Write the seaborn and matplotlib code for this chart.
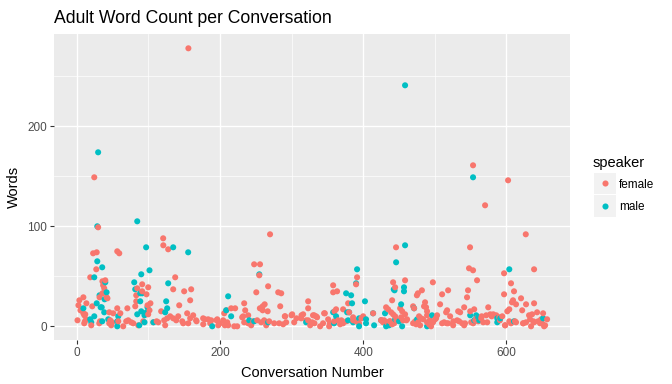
import matplotlib
matplotlib.use("Agg")
import matplotlib.pyplot as plt
from matplotlib.patches import Rectangle
from matplotlib.lines import Line2D
import seaborn as sns
import pandas as pd

# ---- data ----
female_x = [24.6, 30, 120.8, 121, 127.8, 23, 28, 56.7, 59.5, 27.4, 19,
            36, 40, 37, 38.5, 36, 32, 41.8, 43, 9.4, 3.8, 2.5, 5.3, 9.4, 13.6, 10.8, 1.2, 21.8,
            56.7, 61, 70.8, 81.8, 83.2, 84.6, 91.5, 99.9, 91.5, 83.2, 97.5, 98.9, 101.7, 103, 99.9,
            137.6, 134.8, 150.1, 159.9, 158.5, 143.2, 154.3, 162.7, 158.5, 166.8, 176.6, 183.6,
            118, 130.6, 134.8, 141.8, 147.4, 148.8, 139, 126.4, 122.2, 123.6, 107, 114,
            45.5, 48.3, 49.7, 51.1, 45.5, 46.9, 10.6, 13.4, 12, 20.4, 31.6, 65, 69.2, 76.2, 79, 72,
            156,
            270, 247.8, 256, 255, 267.3, 250.8, 281.4, 285.6, 233.9, 284.2, 259.7, 262.5, 259.7, 266.7,
            235.3, 239.5, 215.7, 221.3, 206, 208.8, 187.9, 196.3, 204.6, 210.2, 211.6, 220, 224.2,
            197.7, 176.7, 186.5,
            231.1, 233.9, 239.5, 243.7, 252, 257.6, 261.8, 264.6, 268.8, 275.8, 282.7, 288.3, 291.1,
            292.5, 300.9, 303.7, 313.4, 316.2, 323.2, 323.2, 320.4, 326, 328.8, 331.6, 334.3, 335.7,
            339.9, 345.5, 351.1, 352.5, 358.1, 358.1, 363.6, 362.2, 359.4, 365, 367.8, 372, 379,
            380.4, 372, 385.9, 390.1, 391.5, 390.1, 394.3,
            553.4, 602.3, 570.2, 445.9, 549.2, 547.8, 553.4, 559, 596.7, 458.5, 441.8, 444.6, 497.3,
            482, 476.4, 475, 510.2, 518.6, 546.4, 545, 596.7, 440.4,
            432, 434.8, 439, 441.8, 444.6, 429.2, 433.4, 437.6, 443.2, 440.4, 427.8, 425, 451.6,
            454.4, 453, 458.5, 455.7, 461.3, 469.7, 471.1, 486.4, 485, 487.8, 489.2, 489.2, 478,
            480.9, 483.7, 476.6, 472.5, 469.7, 473.9, 479.5, 489.2, 492, 494.8, 497.6, 501.8, 503.2,
            500.4, 507.4, 510.2, 513, 515.8, 517.2, 518.6, 521.4, 525.6, 532.6, 535.4, 531.2, 534,
            538.2, 541, 541, 549.4, 555, 550.8, 553.6, 556.4, 560.6, 564.8, 567.6, 571.8, 573.2,
            574.6, 577.4, 581.6, 585.8, 590, 594.2, 598.4, 601.2, 604, 604, 400,
            627, 638.6, 606.4, 610.6, 620.4, 609.2, 607.8, 613.4, 627.4, 638.6, 622, 631.6, 635.8,
            642.8, 651.2, 656.8, 648.4, 644.2, 638.6, 634.4, 633, 627.4, 623.2, 613.4, 606.4, 598,
            652.6, 649.8,
            # extra bottom-band readings
            155.8, 167.4, 179, 195.3, 199.9, 206.9, 232.5, 246.5, 255.8, 290.6, 299.9, 306.9,
            313.9, 323.2, 11.6, 32.6, 58.1, 86, 93, 111.7,
            330, 332, 344, 346.5, 353.5, 360, 369.6, 376.6, 386, 397.6, 413.9, 425.5, 437,
            446.4, 460.4, 493, 516.6, 525.9, 542.2, 558.5, 565.5, 579.4, 591, 612, 623.7,
            637.6, 647, 654]
female_y = [149, 99, 88, 81, 77, 73, 74, 75, 73, 57, 49,
            45, 46, 41, 38, 33, 29, 29, 28, 29, 26, 21, 16, 13, 23, 11, 6, 20,
            18, 13, 18, 20, 25, 38, 42, 39, 35, 31, 32, 21, 16, 23, 12,
            49, 37, 35, 37, 26, 21, 13, 11, 8, 6, 8, 7,
            15, 10, 8, 10, 5, 3, 6, 8, 6, 1, 4, 4,
            3, 1, 4, 13, 14, 6, 3, 7, 12, 1, 3, 0, 5, 4, 3, 6,
            278,
            92, 62, 62, 51, 40, 34, 34, 33, 23, 20, 20, 22, 16, 15,
            16, 11, 18, 18, 13, 16, 6, 7, 6, 4, 1, 0, 0,
            1, 2, 3,
            9, 4, 3, 1, 6, 4, 6, 1, 5, 3, 3, 2, 10,
            4, 12, 4, 8, 12, 25, 18, 6, 1, 4, 11, 10, 9,
            0, 13, 7, 0, 41, 34, 35, 17, 5, 6, 2, 3, 23,
            14, 17, 9, 5, 49, 42, 3,
            161, 146, 121, 79, 79, 58, 56, 46, 53, 46, 44, 39, 44,
            36, 33, 31, 32, 36, 36, 29, 32, 26,
            19, 17, 14, 12, 10, 6, 4, 5, 3, 2, 4, 6, 18,
            15, 9, 12, 6, 7, 20, 18, 24, 20, 19, 15, 11, 10,
            8, 7, 4, 5, 3, 2, 1, 4, 2, 0, 4, 8, 11,
            7, 22, 3, 4, 14, 16, 3, 10, 1, 15, 14, 6, 5,
            3, 1, 19, 15, 17, 4, 3, 6, 5, 8, 4, 11, 4,
            19, 12, 12, 11, 9, 10, 1, 15, 17, 5, 10,
            92, 57, 43, 35, 28, 26, 24, 22, 22, 23, 16, 11, 12,
            14, 13, 7, 7, 5, 4, 0, 7, 4, 3, 4, 3, 1,
            0, 3,
            3, 5, 7, 6, 3, 1, 10, 5, 18, 10, 11, 8,
            11, 6, 5, 5, 5, 1, 5, 5,
            11, 3, 3, 13, 3, 15, 6, 5, 6, 8, 13, 6, 5,
            6, 6, 6, 3, 5, 3, 8, 10, 10, 6, 5, 3,
            5, 3, 1]

male_x = [30, 28.8, 84.6, 134.8, 155.7, 97, 28.8, 35.7, 24.6,
          40, 41.8, 32, 39, 28, 33.5, 35, 9.4,
          80.4, 90.2, 101.7, 81.8, 88.8, 91.5, 88.8, 98.9, 97.5, 94.7, 84.6, 90.2, 87.5, 94.7, 107.2,
          127.8, 125, 123.6, 126.4,
          20.4, 19, 24.6, 35.7, 44.1, 56.7, 56.7, 58.1, 38.5,
          211.5, 208.8, 215.7, 189.3,
          240.9, 247.8, 267.3, 320.4, 358.1, 362.2, 359.4, 376.2, 383.2, 384.5, 377.6, 380.4, 379,
          385.9, 390.1, 391.5, 394.3, 394.3,
          458.5, 553.4, 446, 458.5, 442.7, 443.8, 457, 457, 453, 471.1, 402.5, 413.8, 430.5,
          404, 404, 415.3, 425, 432, 436.2, 444.6, 450.2, 454.4, 475.3, 489.2, 496.2, 549.4,
          557.8, 560.6, 555, 562, 587.2, 591.4, 587.2, 604, 610.6, 651.2, 255]
male_y = [174, 100, 105, 79, 74, 79, 65, 59, 49,
          44, 34, 31, 27, 23, 19, 19, 18,
          44, 52, 56, 37, 33, 33, 25, 19, 14, 11, 12, 15, 1, 4, 4,
          43, 25, 14, 18,
          4, 7, 10, 5, 7, 5, 0, 10, 14,
          30, 16, 10, 0,
          6, 5, 4, 4, 14, 10, 3, 33, 31, 23, 14, 14, 6,
          4, 43, 57, 8, 0,
          241, 149, 64, 81, 37, 36, 39, 35, 22, 18, 25, 13, 13,
          7, 3, 1, 6, 0, 1, 7, 5, 0, 7, 0, 11, 11,
          11, 9, 6, 6, 8, 8, 4, 57, 5, 8, 52]

speakers = ["female", "male"]
colors = ["#F8766D", "#00BFC4"]

df = pd.concat([
    pd.DataFrame({"conv": female_x, "words": female_y, "speaker": "female"}),
    pd.DataFrame({"conv": male_x, "words": male_y, "speaker": "male"}),
]).sort_values("conv").reset_index(drop=True)

W, H = 672, 384
fig = plt.figure(figsize=(W / 100, H / 100), dpi=100)
L, R, T, B = 53.9, 570, 34.4, 340.2
ax = fig.add_axes([L / W, 1 - B / H, (R - L) / W, (B - T) / H])

ax.set_facecolor("#EBEBEB")
sns.scatterplot(data=df, x="conv", y="words", hue="speaker", hue_order=speakers,
                palette=dict(zip(speakers, colors)), s=19, linewidth=0, alpha=1,
                legend=False, ax=ax, zorder=3)

ax.set_xlim(-31.75, 688.75)
ax.set_ylim(-13.9, 291.9)
ax.set_xticks([0, 200, 400, 600])
ax.set_yticks([0, 100, 200])
ax.set_xticks([100, 300, 500], minor=True)
ax.set_yticks([50, 150, 250], minor=True)
ax.grid(which="major", color="white", lw=1.0, zorder=0)
ax.grid(which="minor", color="white", lw=0.5, zorder=0)
ax.set_axisbelow(True)
for s in ax.spines.values():
    s.set_visible(False)
ax.tick_params(which="major", length=2.64, width=0.8, color="#333333",
               labelsize=8.45, labelcolor="#4D4D4D", pad=2.2)
ax.tick_params(which="minor", length=0)
for lab in ax.get_xticklabels() + ax.get_yticklabels():
    lab.set_fontfamily("Liberation Sans")
ax.set_xlabel("")
ax.set_ylabel("")

font = "Liberation Sans"
fig.text(54 / W, 1 - 22.7 / H, "Adult Word Count per Conversation", fontsize=12.7,
         family=font, ha="left", va="baseline", color="black")
fig.text((L + R) / 2 / W, 1 - 373 / H, "Conversation Number", fontsize=10.56,
         family=font, ha="center", va="center")
fig.text(14 / W, 1 - (T + B) / 2 / H, "Words", fontsize=10.56, family=font,
         ha="center", va="center", rotation=90)

# legend
fig.text(593 / W, 1 - 163 / H, "speaker", fontsize=10.56, family=font,
         ha="left", va="center")
boxes = [(172.7, 194.3), (195.3, 216.7)]
for (y0, y1), name, col in zip(boxes, speakers, colors):
    fig.patches.append(Rectangle((594 / W, 1 - y1 / H), 22 / W, (y1 - y0) / H,
                                 transform=fig.transFigure, facecolor="#F2F2F2",
                                 edgecolor="none", zorder=1))
    cy = (y0 + y1) / 2
    fig.lines.append(Line2D([605 / W], [1 - cy / H], transform=fig.transFigure,
                            marker="o", markersize=4.4, markeredgewidth=0,
                            color=col, linestyle="none", zorder=2))
    fig.text(619 / W, 1 - (cy + 1) / H, name, fontsize=8.45, family=font,
             ha="left", va="center")

fig.savefig("out.png", dpi=100, facecolor="white")
